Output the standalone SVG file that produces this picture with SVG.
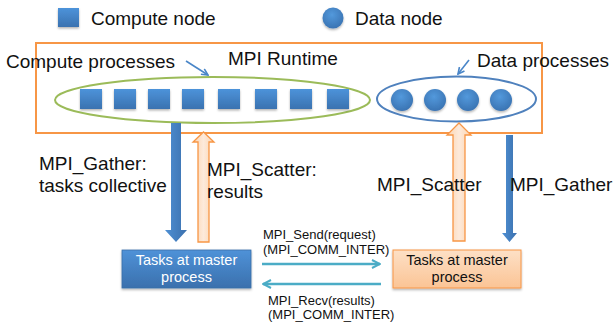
<svg xmlns="http://www.w3.org/2000/svg" width="614" height="322" viewBox="0 0 614 322">
<style>
  text { font-family: "Liberation Sans", Arial, sans-serif; fill: #111; }
  .lbl { font-size: 19px; }
  .small { font-size: 13px; }
  .box { font-size: 14.5px; text-anchor: middle; }
  .sq { fill: url(#blueV); filter: url(#sh); }
  .dot { fill: url(#blueR); filter: url(#sh); }
  .down { fill: url(#blueH); }
  .up { fill: url(#peachH); stroke: #f79646; stroke-width: 1.3; }
  .teal { stroke: #4bacc6; stroke-width: 2.5; fill: none; }
  .ptr { stroke: #4a86c8; stroke-width: 1.6; fill: none; }
</style>
<defs>
  <linearGradient id="blueV" x1="0" y1="0" x2="0" y2="1">
    <stop offset="0" stop-color="#4d93da"/>
    <stop offset="1" stop-color="#3a72b0"/>
  </linearGradient>
  <radialGradient id="blueR" cx="0.45" cy="0.35" r="0.7">
    <stop offset="0" stop-color="#5399dc"/>
    <stop offset="1" stop-color="#3871b0"/>
  </radialGradient>
  <linearGradient id="blueH" x1="0" y1="0" x2="1" y2="0">
    <stop offset="0" stop-color="#4f90d4"/>
    <stop offset="1" stop-color="#3b70ad"/>
  </linearGradient>
  <linearGradient id="peachH" x1="0" y1="0" x2="1" y2="0">
    <stop offset="0" stop-color="#fcd3ad"/>
    <stop offset="0.5" stop-color="#fdeadb"/>
    <stop offset="1" stop-color="#fcd3ad"/>
  </linearGradient>
  <linearGradient id="boxBlue" x1="0" y1="0" x2="0" y2="1">
    <stop offset="0" stop-color="#4f92d8"/>
    <stop offset="1" stop-color="#3a70ad"/>
  </linearGradient>
  <linearGradient id="boxPeach" x1="0" y1="0" x2="0" y2="1">
    <stop offset="0" stop-color="#fde0c6"/>
    <stop offset="1" stop-color="#fbc495"/>
  </linearGradient>
  <filter id="sh" x="-30%" y="-30%" width="160%" height="170%">
    <feDropShadow dx="0" dy="1.5" stdDeviation="1.2" flood-color="#000" flood-opacity="0.3"/>
  </filter>
  <marker id="chev" viewBox="0 0 10 10" refX="9" refY="5" markerWidth="4" markerHeight="4" orient="auto-start-reverse" markerUnits="strokeWidth">
    <path d="M1,1 L9,5 L1,9" fill="none" stroke="#4bacc6" stroke-width="2"/>
  </marker>
  <marker id="ptrHead" viewBox="0 0 10 10" refX="9" refY="5" markerWidth="5" markerHeight="5" orient="auto" markerUnits="strokeWidth">
    <path d="M1,1 L9,5 L1,9" fill="none" stroke="#4a86c8" stroke-width="2"/>
  </marker>
</defs>

<g id="legend-compute">
  <rect x="58" y="8" width="21" height="19" class="sq"/>
  <text x="91" y="25" class="lbl">Compute node</text>
</g>
<g id="legend-data">
  <circle cx="333" cy="18" r="10.5" class="dot"/>
  <text x="355" y="25" class="lbl">Data node</text>
</g>

<g id="mpi-runtime">
  <rect x="36" y="43" width="506" height="90" fill="none" stroke="#f79646" stroke-width="2"/>
  <text x="228" y="65" class="lbl">MPI Runtime</text>
</g>

<g id="compute-processes">
  <ellipse cx="212.5" cy="100" rx="157.5" ry="23" fill="none" stroke="#9bbb59" stroke-width="2"/>
  <rect x="80" y="89" width="22" height="20" class="sq"/>
  <rect x="114" y="89" width="22" height="20" class="sq"/>
  <rect x="148" y="89" width="22" height="20" class="sq"/>
  <rect x="182" y="89" width="22" height="20" class="sq"/>
  <rect x="218" y="89" width="22" height="20" class="sq"/>
  <rect x="255" y="89" width="22" height="20" class="sq"/>
  <rect x="290" y="89" width="22" height="20" class="sq"/>
  <rect x="327" y="89" width="22" height="20" class="sq"/>
  <text x="6" y="68" class="lbl">Compute processes</text>
</g>

<g id="data-processes">
  <ellipse cx="456.5" cy="99" rx="79.5" ry="22.5" fill="none" stroke="#4f81bd" stroke-width="2"/>
  <circle cx="402" cy="100" r="11" class="dot"/>
  <circle cx="435" cy="100" r="11" class="dot"/>
  <circle cx="468" cy="100" r="11" class="dot"/>
  <circle cx="501" cy="100" r="11" class="dot"/>
  <text x="477" y="67" class="lbl">Data processes</text>
</g>

<g id="master-compute">
  <rect x="122" y="250" width="129" height="38" fill="url(#boxBlue)" stroke="#3a6ea8" stroke-width="0.8" filter="url(#sh)"/>
  <text x="186.5" y="265" class="box" style="fill:#fff">Tasks at master</text>
  <text x="186.5" y="282" class="box" style="fill:#fff">process</text>
</g>

<g id="master-data">
  <rect x="393" y="250" width="128" height="38" fill="url(#boxPeach)" stroke="#f79646" stroke-width="1" filter="url(#sh)"/>
  <text x="457" y="265" class="box">Tasks at master</text>
  <text x="457" y="282" class="box">process</text>
</g>

<g id="connectors">
  <line x1="186" y1="61" x2="208" y2="75" class="ptr" marker-end="url(#ptrHead)"/>
  <line x1="469" y1="60" x2="458" y2="74" class="ptr" marker-end="url(#ptrHead)"/>
  <path class="down" d="M171,123 H181 V230 H187 L176,242 L165,230 H171 Z"/>
  <path class="up" d="M198,242 V142 H193 L203.5,132 L214,142 H209 V242 Z"/>
  <path class="up" d="M453,241 V135 H447 L459,123 L471,135 H465 V241 Z"/>
  <path class="down" d="M506,135 H513 V233 H517 L509.5,242 L502,233 H506 Z"/>
  <line x1="262" y1="264" x2="380" y2="264" class="teal" marker-end="url(#chev)"/>
  <line x1="263" y1="284" x2="381" y2="284" class="teal" marker-start="url(#chev)"/>
</g>

<g id="labels">
  <text x="39" y="170" class="lbl">MPI_Gather:</text>
  <text x="39" y="192" class="lbl">tasks collective</text>
  <text x="207" y="176" class="lbl">MPI_Scatter:</text>
  <text x="207" y="198" class="lbl">results</text>
  <text x="377" y="191" class="lbl">MPI_Scatter</text>
  <text x="510" y="191" class="lbl">MPI_Gather</text>
  <text x="263" y="239" class="small">MPI_Send(request)</text>
  <text x="263" y="254" class="small">(MPI_COMM_INTER)</text>
  <text x="268" y="305" class="small">MPI_Recv(results)</text>
  <text x="268" y="319" class="small">(MPI_COMM_INTER)</text>
</g>
</svg>
